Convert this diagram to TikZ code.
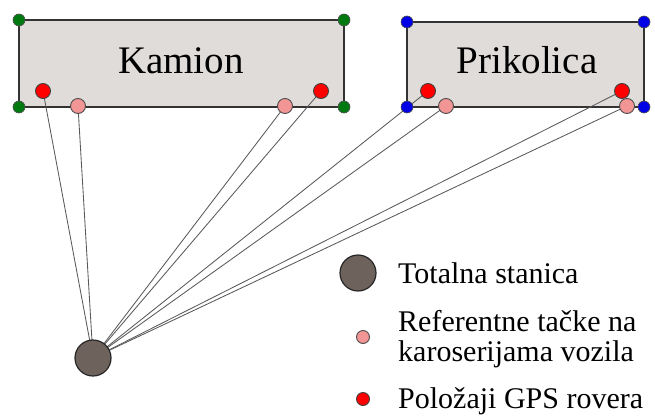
\documentclass[tikz,border=0pt]{standalone}
\usepackage{fontspec}
\setmainfont{Liberation Serif}
\definecolor{boxfill}{HTML}{E0DCDA}
\definecolor{edge}{HTML}{333333}
\definecolor{cgreen}{HTML}{007A10}
\definecolor{cblue}{HTML}{0000E6}
\definecolor{cred}{HTML}{FF0000}
\definecolor{cpink}{HTML}{F29595}
\definecolor{cstation}{HTML}{6E625C}
\tikzset{
  vbox/.style={draw=edge,line width=1.6pt,fill=boxfill},
  corner/.style={circle,draw=black!70,line width=0.6pt,inner sep=0pt,minimum size=12pt},
  gdot/.style={corner,fill=cgreen},
  bdot/.style={corner,fill=cblue},
  rdot/.style={circle,draw=black!75,line width=0.9pt,fill=cred,inner sep=0pt,minimum size=15pt},
  pdot/.style={circle,draw=black!70,line width=0.9pt,fill=cpink,inner sep=0pt,minimum size=15pt},
  station/.style={circle,draw=black!85,line width=1.2pt,fill=cstation,inner sep=0pt,minimum size=36pt},
  sight/.style={draw=black!65,line width=0.85pt},
  big/.style={font=\fontsize{39}{47}\selectfont},
  legend/.style={font=\fontsize{30}{31}\selectfont,anchor=base west,inner sep=0pt},
}
\begin{document}
\begin{tikzpicture}[x=1pt,y=-1pt]
\useasboundingbox (0,0) rectangle (655,417);
% boxes
\draw[vbox] (19,20) rectangle (344,107);
\draw[vbox] (407,22) rectangle (644,107);
\node[big,anchor=base] (kamion) at (181,74) {Kamion};
\node[big,anchor=base] (prikolica) at (527,74) {Prikolica};
% station
\coordinate (ts) at (93,358);
% target points
\coordinate (r1) at (43,91);
\coordinate (p1) at (78,106);
\coordinate (p2) at (285,106);
\coordinate (r2) at (321,91);
\coordinate (r3) at (428,91);
\coordinate (p3) at (446,106);
\coordinate (r4) at (622,91);
\coordinate (p4) at (627,106);
\foreach \t in {r1,p1,p2,r2,r3,p3,r4,p4} \draw[sight] (ts) -- (\t);
% corners
\node[gdot] (k1) at (19,20) {};
\node[gdot] (k2) at (344,20) {};
\node[gdot] (k3) at (19,107) {};
\node[gdot] (k4) at (344,107) {};
\node[bdot] (b1) at (407,22) {};
\node[bdot] (b2) at (644,22) {};
\node[bdot] (b3) at (407,107) {};
% dots
\node[rdot] (R1) at (r1) {};
\node[pdot] (P1) at (p1) {};
\node[pdot] (P2) at (p2) {};
\node[rdot] (R2) at (r2) {};
\node[rdot] (R3) at (r3) {};
\node[pdot] (P3) at (p3) {};
\node[rdot] (R4) at (r4) {};
\node[pdot] (P4) at (p4) {};
\node[bdot] (b4) at (644,107) {};
\node[station] (TS) at (ts) {};
% legend
\node[station] (l1) at (358,273) {};
\node[pdot,minimum size=13pt] (l2) at (363,337) {};
\node[rdot,minimum size=13pt] (l3) at (363,399) {};
\node[legend] (t1) at (398,283) {Totalna stanica};
\node[legend] (t2) at (398,331) {Referentne tačke na};
\node[legend] (t3) at (398,361) {karoserijama vozila};
\node[legend] (t4) at (398,408) {Položaji GPS rovera};
\end{tikzpicture}
\end{document}
